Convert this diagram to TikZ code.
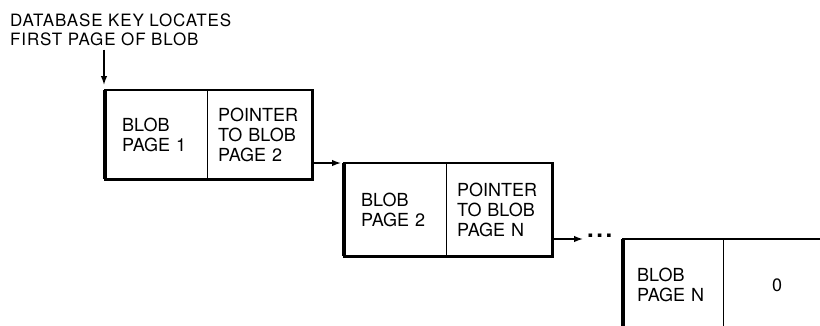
\documentclass[tikz,border=0pt]{standalone}
\usepackage{fontspec}
\setmainfont{TeX Gyre Heros}
\usetikzlibrary{arrows.meta}
\tikzset{
  cell/.style={draw=none, anchor=north west, inner xsep=0pt, inner ysep=0pt,
    align=left, font=\fontsize{18}{20}\selectfont},
  outline/.style={line width=2.6pt},
  thickleft/.style={line width=4pt},
  divider/.style={line width=1pt},
  arr/.style={line width=1.4pt, -{Latex[length=9pt,width=6.5pt]}},
}
\begin{document}
\begin{tikzpicture}[x=1pt,y=-1pt]
\useasboundingbox (0,0) rectangle (820,325);
\clip (0,0) rectangle (820,325);
% title
\node[anchor=base west, inner sep=0pt, align=left,
  font=\fontsize{17}{19}\selectfont\addfontfeatures{LetterSpace=5}] (title) at (10,45)
  {DATABASE KEY LOCATES\\FIRST PAGE OF BLOB};
% box 1
\node[cell, minimum width=102pt, minimum height=89pt, text width=68pt, inner xsep=17pt] (b1l) at (105,90) {BLOB\\PAGE 1};
\node[cell, minimum width=105pt, minimum height=89pt, text width=83pt, inner xsep=11pt] (b1r) at (207,90) {POINTER\\TO BLOB\\PAGE 2};
% box 2
\node[cell, minimum width=102pt, minimum height=93pt, text width=68pt, inner xsep=17pt] (b2l) at (344,163) {BLOB\\PAGE 2};
\node[cell, minimum width=106pt, minimum height=93pt, text width=84pt, inner xsep=11pt] (b2r) at (446,163) {POINTER\\TO BLOB\\PAGE N};
% box 3
\node[cell, minimum width=100pt, minimum height=92pt, text width=72pt, inner xsep=14pt] (b3l) at (623,239) {BLOB\\PAGE N};
\node[cell, minimum width=108pt, minimum height=92pt, align=center] (b3r) at (723,239) {0};
% outlines
\draw[outline] (b1l.north west) rectangle (b1r.south east);
\draw[thickleft] (b1l.north west) -- (b1l.south west);
\draw[divider] (b1l.north east) -- (b1l.south east);
\draw[outline] (b2l.north west) rectangle (b2r.south east);
\draw[thickleft] (b2l.north west) -- (b2l.south west);
\draw[divider] (b2l.north east) -- (b2l.south east);
\draw[outline] (b3l.north west) rectangle (b3r.south east);
\draw[thickleft] (b3l.north west) -- (b3l.south west);
\draw[divider] (b3l.north east) -- (b3l.south east);
% dots
\node[inner sep=0pt, anchor=west, font=\fontsize{24}{24}\selectfont\bfseries] (dots) at (587,236) {.\hspace{2.5pt}.\hspace{2.5pt}.};
% arrows
\draw[arr, shorten <=4pt] ([xshift=-1pt]b1l.north west |- title.south) -- ([xshift=-1pt,yshift=5pt]b1l.north west);
\draw[arr, shorten >=3pt] ([xshift=1pt]b1r.east |- b2l.north west) -- (b2l.north west);
\draw[arr, shorten >=4pt] ([xshift=1pt]b2r.east |- b3l.north west) -- (dots.west |- b3l.north west);
\end{tikzpicture}
\end{document}
